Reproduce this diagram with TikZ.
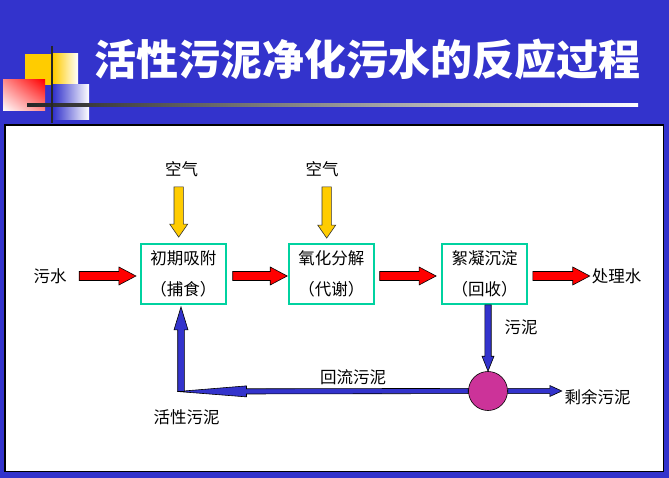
\documentclass[tikz,border=0pt]{standalone}
\usepackage{fontspec}
\usepackage{tikz}
\usetikzlibrary{calc,positioning,shadings}
\newfontfamily\cjk{Noto Sans CJK SC}
\definecolor{bgblue}{RGB}{51,51,204}
\definecolor{boxteal}{RGB}{0,210,160}
\definecolor{arrred}{RGB}{255,0,0}
\definecolor{arryel}{RGB}{255,204,0}
\definecolor{sludge}{RGB}{204,51,153}
\tikzset{
  ba shaft/.store in=\bashaft, ba head/.store in=\bahead, ba len/.store in=\balen,
  ba shaft=4.5pt, ba head=9pt, ba len=17pt,
  blockarrow/.style={draw=black, line width=0.6pt, line join=miter,
    to path={($(\tikztotarget)!\balen!(\tikztostart)$) coordinate (ba-neck)
      ($(\tikztostart)!\bashaft!90:(\tikztotarget)$)
      -- ($(ba-neck)!\bashaft!90:(\tikztotarget)$)
      -- ($(ba-neck)!\bahead!90:(\tikztotarget)$)
      -- (\tikztotarget)
      -- ($(ba-neck)!\bahead!-90:(\tikztotarget)$)
      -- ($(ba-neck)!\bashaft!-90:(\tikztotarget)$)
      -- ($(\tikztostart)!\bashaft!-90:(\tikztotarget)$) -- cycle}},
  redarrow/.style={blockarrow, fill=arrred, ba shaft=4.5pt, ba head=9pt, ba len=17pt},
  yelarrow/.style={blockarrow, fill=arryel, draw=black!80, ba shaft=4.7pt, ba head=9pt, ba len=13pt},
  bluearrow/.style={blockarrow, fill=bgblue, ba shaft=2.6pt, ba head=5.5pt, ba len=12pt},
  stage/.style={draw=boxteal, line width=1.8pt, minimum width=85pt, minimum height=60pt,
    inner sep=0pt, align=center, font=\cjk\fontsize{16.5pt}{31pt}\selectfont},
  lbl/.style={inner sep=0pt, font=\cjk\fontsize{16.5pt}{20pt}\selectfont}
}
\begin{document}
\begin{tikzpicture}[x=1pt,y=-1pt]
  \useasboundingbox (0,0) rectangle (669,478);
  \fill[bgblue] (0,0) rectangle (669,478);
  % corner ornament
  \fill[arryel] (25,54) rectangle (53,85);
  \shade[left color=arryel, right color=white] (53,54) rectangle (78,85);
  \shade[upper right=arrred, lower left=white, upper left=arrred!45, lower right=arrred!45]
    (3,80) rectangle (45,111);
  \shade[left color=bgblue, right color=white] (53,85) rectangle (89,120);
  \shade[left color=black!85, right color=white] (27,103.5) rectangle (638,106.5);
  \draw[black!85, line width=2pt] (51.7,46) -- (51.7,123);
  \node[text=white, inner sep=0pt, font=\cjk\bfseries\fontsize{42pt}{42pt}\selectfont]
    (title) at (367,59) {活性污泥净化污水的反应过程};
  % panel
  \draw[fill=white, line width=1.3pt] (5,125) rectangle (663.7,471.7);
  % stages
  \node[stage] (adsorb) at (183.3,274) {初期吸附\\（捕食）};
  \node[stage] (oxid)   at (331.3,274) {氧化分解\\（代谢）};
  \node[stage] (settle) at (484.5,274) {絮凝沉淀\\（回收）};
  \node[lbl] (air1)    at (181.7,169) {空气};
  \node[lbl] (air2)    at (322,169)   {空气};
  \node[lbl] (inflow)  at (50,276)    {污水};
  \node[lbl] (outflow) at (616.7,276) {处理水};
  \node[lbl] (mud)     at (521,327)   {污泥};
  \node[lbl] (back)    at (353,377)   {回流污泥};
  \node[lbl] (active)  at (186.7,417.3) {活性污泥};
  \node[lbl] (excess)  at (597.5,397) {剩余污泥};
  \node[circle, draw=black, line width=0.6pt, fill=sludge, minimum size=39pt, inner sep=0pt]
    (pool) at (488,391) {};
  \coordinate (bend) at (177.5,391.5);
  % air
  \draw[yelarrow] ([xshift=-3pt,yshift=-10pt]air1.south) to ([xshift=-4.6pt,yshift=6pt]adsorb.north);
  \draw[yelarrow] ([xshift=4.7pt,yshift=-10pt]air2.south) to ([xshift=-4.6pt,yshift=5pt]oxid.north);
  % water
  \draw[redarrow] ([xshift=12.5pt]inflow.east) to ([xshift=-4pt,yshift=-2pt]adsorb.west);
  \draw[redarrow] ([xshift=6pt,yshift=-2pt]adsorb.east) to ([xshift=-0.7pt,yshift=-2pt]oxid.west);
  \draw[redarrow] ([xshift=5pt,yshift=-2pt]oxid.east) to ([xshift=-5pt,yshift=-2pt]settle.west);
  \draw[redarrow] ([xshift=5pt,yshift=-2pt]settle.east) to ([xshift=-2pt]outflow.west);
  % sludge
  \draw[bluearrow, ba shaft=3.2pt, ba head=6pt, ba len=15pt] (settle.south -| pool.north) to (pool.north);
  \draw[bluearrow] (pool.east) to ([xshift=-2.5pt]excess.west |- pool.east);
  \draw[bluearrow, ba len=69pt] (pool.west) to (bend);
  \draw[bluearrow, ba shaft=3.3pt, ba head=7pt, ba len=23pt] ([xshift=3.5pt]bend) to ([xshift=-2.3pt,yshift=-2pt]adsorb.south);
\end{tikzpicture}
\end{document}
